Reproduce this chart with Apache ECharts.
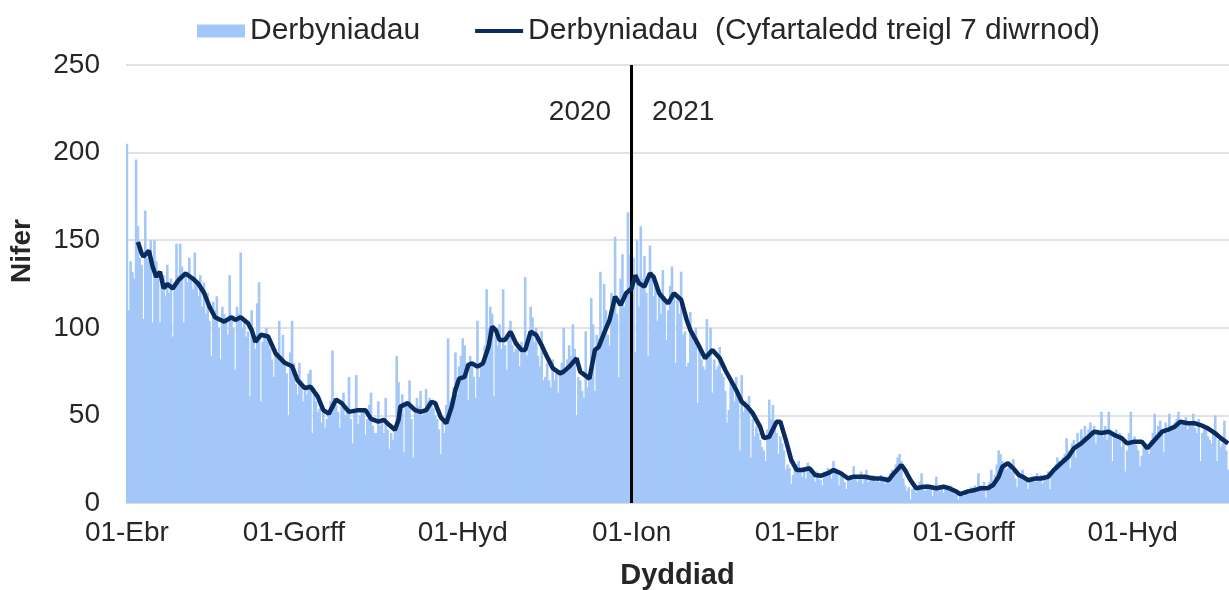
<!DOCTYPE html>
<html>
<head>
<meta charset="utf-8">
<script src="https://cdn.jsdelivr.net/npm/echarts@6/dist/echarts.min.js"></script>
<style>
html, body { margin: 0; padding: 0; background: #fff; }
#container { width: 1229px; height: 590px; }
</style>
</head>
<body>
<div id="container"></div>
<script>
// daily admissions, one array per month (Apr 2020 - Nov 2021)
var apr2020 = [205,110,138,132,128,196,158,140,136,105,167,140,145,150,103,150,138,128,103,125,130,118,136,120,128,95,126,148,130,148];
var may2020 = [135,103,132,126,140,128,122,143,125,118,130,112,126,108,120,104,84,115,110,118,100,82,112,108,104,96,130,106,100,76,112];
var jun2020 = [108,143,100,104,95,98,61,110,96,88,114,126,58,92,97,100,95,88,82,72,88,84,104,82,96,80,74,50,86,104];
var jul2020 = [80,68,62,80,70,58,64,62,74,76,40,66,58,52,54,46,52,43,48,52,58,87,60,56,52,43,55,63,50,52,72];
var aug2020 = [48,34,52,73,45,50,54,52,39,48,56,63,44,40,40,58,44,46,40,60,42,31,40,36,42,84,69,56,62,29,55];
var sep2020 = [58,70,48,26,52,60,55,64,50,52,65,58,60,56,54,50,48,42,28,46,40,56,94,58,60,66,86,62,78,84];
var oct2020 = [94,90,80,59,84,78,72,60,104,72,80,82,90,122,100,112,108,61,96,90,102,88,122,90,76,94,104,90,86,88,92];
var nov2020 = [78,92,88,129,84,92,112,106,92,100,84,78,98,70,72,80,70,66,82,70,74,63,76,80,100,74,82,90,84,102];
var dec2020 = [88,50,72,70,64,60,98,66,74,117,102,64,96,94,132,98,125,110,96,90,120,118,152,108,72,128,142,112,118,166,142];
var jan2021 = [146,140,86,150,112,158,128,141,120,84,147,132,118,126,104,122,108,133,118,93,110,124,135,118,80,116,108,132,96,98,78];
var feb2021 = [80,109,96,92,100,57,90,82,78,76,105,84,100,63,82,76,78,89,74,72,64,46,53,70,66,58,72,60];
var mar2021 = [30,73,52,58,56,61,26,48,38,44,40,36,32,30,24,42,59,48,56,44,40,28,38,34,30,19,22,20,11,16,20];
var apr2021 = [22,24,18,15,20,14,23,20,16,17,12,18,14,13,10,18,16,20,19,14,24,20,18,10,17,16,12,8,14,16];
var may2021 = [15,21,14,12,16,18,11,16,19,12,14,13,16,12,14,12,16,13,11,15,12,17,19,16,22,26,28,24,14,10,7];
var jun2021 = [9,2,8,10,6,8,12,17,9,7,11,8,10,4,8,15,9,7,10,6,9,8,7,10,6,5,7,2,6,4];
var jul2021 = [4,7,8,5,9,6,10,6,17,10,9,12,3,7,12,19,10,16,22,30,28,24,22,19,20,21,18,25,14,9,15];
var aug2021 = [16,19,14,12,8,13,15,14,12,17,13,16,11,15,14,18,8,17,20,22,26,24,22,26,28,37,30,20,34,36,26];
var sep2021 = [40,32,42,38,44,35,42,46,38,44,34,42,40,52,38,44,36,52,40,24,38,42,36,40,32,35,18,30,40,52];
var oct2021 = [36,38,33,30,21,27,32,34,30,28,36,40,51,38,44,47,42,29,46,40,51,44,42,46,48,52,44,45,47,49,42];
var nov2021 = [46,44,51,43,40,48,24,40,42,44,38,36,34,40,50,24,36,32,34,47,30,19];

// 7 day rolling average
var rollingAvg2020 = [
  ['2020-04-07',149],['2020-04-09',142.5],['2020-04-10',140.6],['2020-04-13',144],['2020-04-15',135],
  ['2020-04-17',129],['2020-04-19',132],['2020-04-21',122.5],['2020-04-23',125],['2020-04-26',122.5],
  ['2020-04-29',127],['2020-05-03',131],['2020-05-07',128],['2020-05-10',125],['2020-05-13',120],
  ['2020-05-16',112],['2020-05-19',106],['2020-05-24',103.5],['2020-05-28',106],['2020-05-30',104.5],
  ['2020-06-02',106],['2020-06-06',102.6],['2020-06-08',98.7],['2020-06-10',92],['2020-06-13',96],
  ['2020-06-17',95],['2020-06-21',85.4],['2020-06-26',80],['2020-06-30',78],['2020-07-03',70],
  ['2020-07-07',65.5],['2020-07-10',66.4],['2020-07-14',60.7],['2020-07-17',53],['2020-07-20',51],
  ['2020-07-24',59],['2020-07-27',57],['2020-07-31',52],['2020-08-05',53],['2020-08-09',53],
  ['2020-08-12',48],['2020-08-16',46.4],['2020-08-19',47.4],['2020-08-22',44.5],['2020-08-25',41.7],
  ['2020-08-27',47.4],['2020-08-28',55],['2020-09-01',57],['2020-09-05',53],['2020-09-08',52],
  ['2020-09-11',53],['2020-09-14',57.8],['2020-09-16',57],['2020-09-19',49],['2020-09-22',45.5],
  ['2020-09-25',55],['2020-09-27',64.5],['2020-09-29',71],['2020-10-02',72],['2020-10-04',78.8],
  ['2020-10-06',79.7],['2020-10-09',77.8],['2020-10-12',79.7],['2020-10-15',89],['2020-10-17',100.6],
  ['2020-10-19',98.7],['2020-10-21',93],['2020-10-24',93],['2020-10-25',92],['2020-10-27',97.8],
  ['2020-10-30',91],['2020-11-02',87.3],['2020-11-04',87.3],['2020-11-07',97.8],['2020-11-10',95.9],
  ['2020-11-13',90],['2020-11-15',85.4],['2020-11-19',77],['2020-11-23',74],['2020-11-25',75],
  ['2020-11-28',77.8],['2020-12-02',82.6],['2020-12-04',75],['2020-12-09',71],['2020-12-12',87.3],
  ['2020-12-14',89],['2020-12-17',96.9],['2020-12-20',104.5],['2020-12-23',117.8],['2020-12-26',113],
  ['2020-12-29',119.7]
];
var rollingAvg2021 = [
  ['2021-01-01',122.5],['2021-01-03',130],['2021-01-05',125.4],['2021-01-08',123.5],['2021-01-11',131],
  ['2021-01-13',129],['2021-01-16',119.7],['2021-01-19',115.9],['2021-01-21',114],['2021-01-24',119.7],
  ['2021-01-28',116],['2021-01-31',104.5],['2021-02-02',98.7],['2021-02-06',91],['2021-02-10',82.6],
  ['2021-02-14',87.3],['2021-02-18',82.6],['2021-02-21',75.9],['2021-02-24',70.2],['2021-02-27',64.5],
  ['2021-03-02',57.8],['2021-03-05',55],['2021-03-08',51.2],['2021-03-12',43.6],['2021-03-14',37],
  ['2021-03-17',37.8],['2021-03-21',46.4],['2021-03-23',46.4],['2021-03-26',36],['2021-03-29',24.5],
  ['2021-04-01',18.8],['2021-04-04',18.8],['2021-04-08',19.8],['2021-04-11',16],['2021-04-14',15.5],
  ['2021-04-18',17],['2021-04-21',18.8],['2021-04-25',17],['2021-04-29',14],['2021-05-02',15],
  ['2021-05-08',15],['2021-05-13',14],['2021-05-17',14],['2021-05-21',13],['2021-05-24',17],
  ['2021-05-28',21.7],['2021-05-30',18.8],['2021-06-02',13],['2021-06-05',8.4],['2021-06-09',9.3],
  ['2021-06-12',9.3],['2021-06-16',8.4],['2021-06-20',9.3],['2021-06-23',8.4],['2021-06-27',6.5],
  ['2021-06-29',5],['2021-07-03',6.5],['2021-07-07',7.4],['2021-07-10',8.4],['2021-07-14',8.4],
  ['2021-07-17',10.3],['2021-07-20',15],['2021-07-22',20.7],['2021-07-25',22.7],['2021-07-28',19.8],
  ['2021-07-31',16],['2021-08-02',15],['2021-08-05',13],['2021-08-09',14],['2021-08-12',14],
  ['2021-08-16',15],['2021-08-19',18.8],['2021-08-23',22.7],['2021-08-27',26.4],['2021-08-30',31.2],
  ['2021-09-03',34],['2021-09-07',37.8],['2021-09-10',40.7],['2021-09-14',40],['2021-09-18',40.7],
  ['2021-09-21',38.8],['2021-09-25',37],['2021-09-28',34],['2021-10-02',35],['2021-10-06',35],
  ['2021-10-09',31.2],['2021-10-13',36],['2021-10-17',40.7],['2021-10-20',41.7],['2021-10-24',43.6],
  ['2021-10-27',46.4],['2021-10-31',45.5],['2021-11-04',45.5],['2021-11-07',44.5],['2021-11-11',42.6],
  ['2021-11-15',39.8],['2021-11-18',37],['2021-11-22',34]
];

var monthsCy = ['Ion','Chwef','Maw','Ebr','Mai','Meh','Gorff','Awst','Medi','Hyd','Tach','Rhag'];
var yearSplit = '2021-01-01';

var admissions = [].concat(apr2020, may2020, jun2020, jul2020, aug2020, sep2020, oct2020, nov2020, dec2020,
  jan2021, feb2021, mar2021, apr2021, may2021, jun2021, jul2021, aug2021, sep2021, oct2021, nov2021);
var rollingAvg = rollingAvg2020.concat(rollingAvg2021);

var startDate = Date.UTC(2020, 3, 1);
var days = admissions.map(function (v, i) {
    return new Date(startDate + i * 86400000).toISOString().slice(0, 10);
});

function isQuarterStart(idx, val) {
    return val.slice(8) === '01' && ['01', '04', '07', '10'].indexOf(val.slice(5, 7)) >= 0;
}

var font = '"Liberation Sans", Arial, sans-serif';
var textColor = '#262626';
var navy = '#0a2b5e';

var myChart = echarts.init(document.getElementById('container'));

var option = {
    animation: false,
    textStyle: { fontFamily: font },
    legend: {
        left: 192,
        top: 11,
        itemWidth: 48,
        itemHeight: 13,
        itemGap: 55,
        textStyle: { fontFamily: font, fontSize: 30, color: textColor },
        data: [
            { name: 'Derbyniadau', icon: 'rect' },
            { name: 'Derbyniadau  (Cyfartaledd treigl 7 diwrnod)', icon: 'path://M0,0H50V4H0Z' }
        ]
    },
    grid: { left: 126, right: 0, top: 65, bottom: 87, outerBoundsMode: 'none' },
    xAxis: {
        type: 'category',
        data: days,
        name: 'Dyddiad',
        nameLocation: 'middle',
        nameGap: 58,
        nameTextStyle: { fontFamily: font, fontSize: 29, fontWeight: 'bold', color: textColor },
        axisLine: { lineStyle: { color: '#d9d9d9', width: 1.5 } },
        axisTick: { interval: isQuarterStart, length: 6, lineStyle: { color: '#d9d9d9', width: 1.5 } },
        axisLabel: {
            interval: isQuarterStart,
            margin: 16,
            fontFamily: font,
            fontSize: 28,
            color: textColor,
            formatter: function (val) {
                return val.slice(8) + '-' + monthsCy[parseInt(val.slice(5, 7), 10) - 1];
            }
        }
    },
    yAxis: {
        type: 'value',
        min: 0,
        max: 250,
        interval: 50,
        axisLine: { show: false },
        axisTick: { show: false },
        axisLabel: { margin: 26, fontFamily: font, fontSize: 28, color: textColor },
        splitLine: { lineStyle: { color: '#d9d9d9', width: 1.5 } }
    },
    graphic: [{
        type: 'text',
        x: 22,
        y: 251,
        rotation: Math.PI / 2,
        style: {
            text: 'Nifer',
            font: 'bold 28px "Liberation Sans", Arial, sans-serif',
            fill: textColor,
            align: 'center',
            verticalAlign: 'middle'
        }
    }],
    series: [
        {
            name: 'Derbyniadau',
            type: 'bar',
            data: admissions,
            barWidth: 2.6,
            itemStyle: { color: '#a4c7f9' },
            markLine: {
                silent: true,
                symbol: 'none',
                label: { show: false },
                lineStyle: { color: '#000', width: 3, type: 'solid' },
                data: [{ xAxis: yearSplit }]
            }
        },
        {
            name: 'Derbyniadau  (Cyfartaledd treigl 7 diwrnod)',
            type: 'line',
            data: rollingAvg,
            symbol: 'none',
            z: 5,
            lineStyle: { color: navy, width: 4.5 },
            itemStyle: { color: navy },
            markPoint: {
                silent: true,
                symbol: 'circle',
                symbolSize: 1,
                itemStyle: { color: 'rgba(0,0,0,0)' },
                label: { show: true, fontFamily: font, fontSize: 28, color: textColor, distance: 20 },
                data: [
                    { coord: [yearSplit, 223], label: { formatter: '2020', position: 'left' } },
                    { coord: [yearSplit, 223], label: { formatter: '2021', position: 'right' } }
                ]
            }
        }
    ]
};

myChart.setOption(option);
</script>
</body>
</html>
